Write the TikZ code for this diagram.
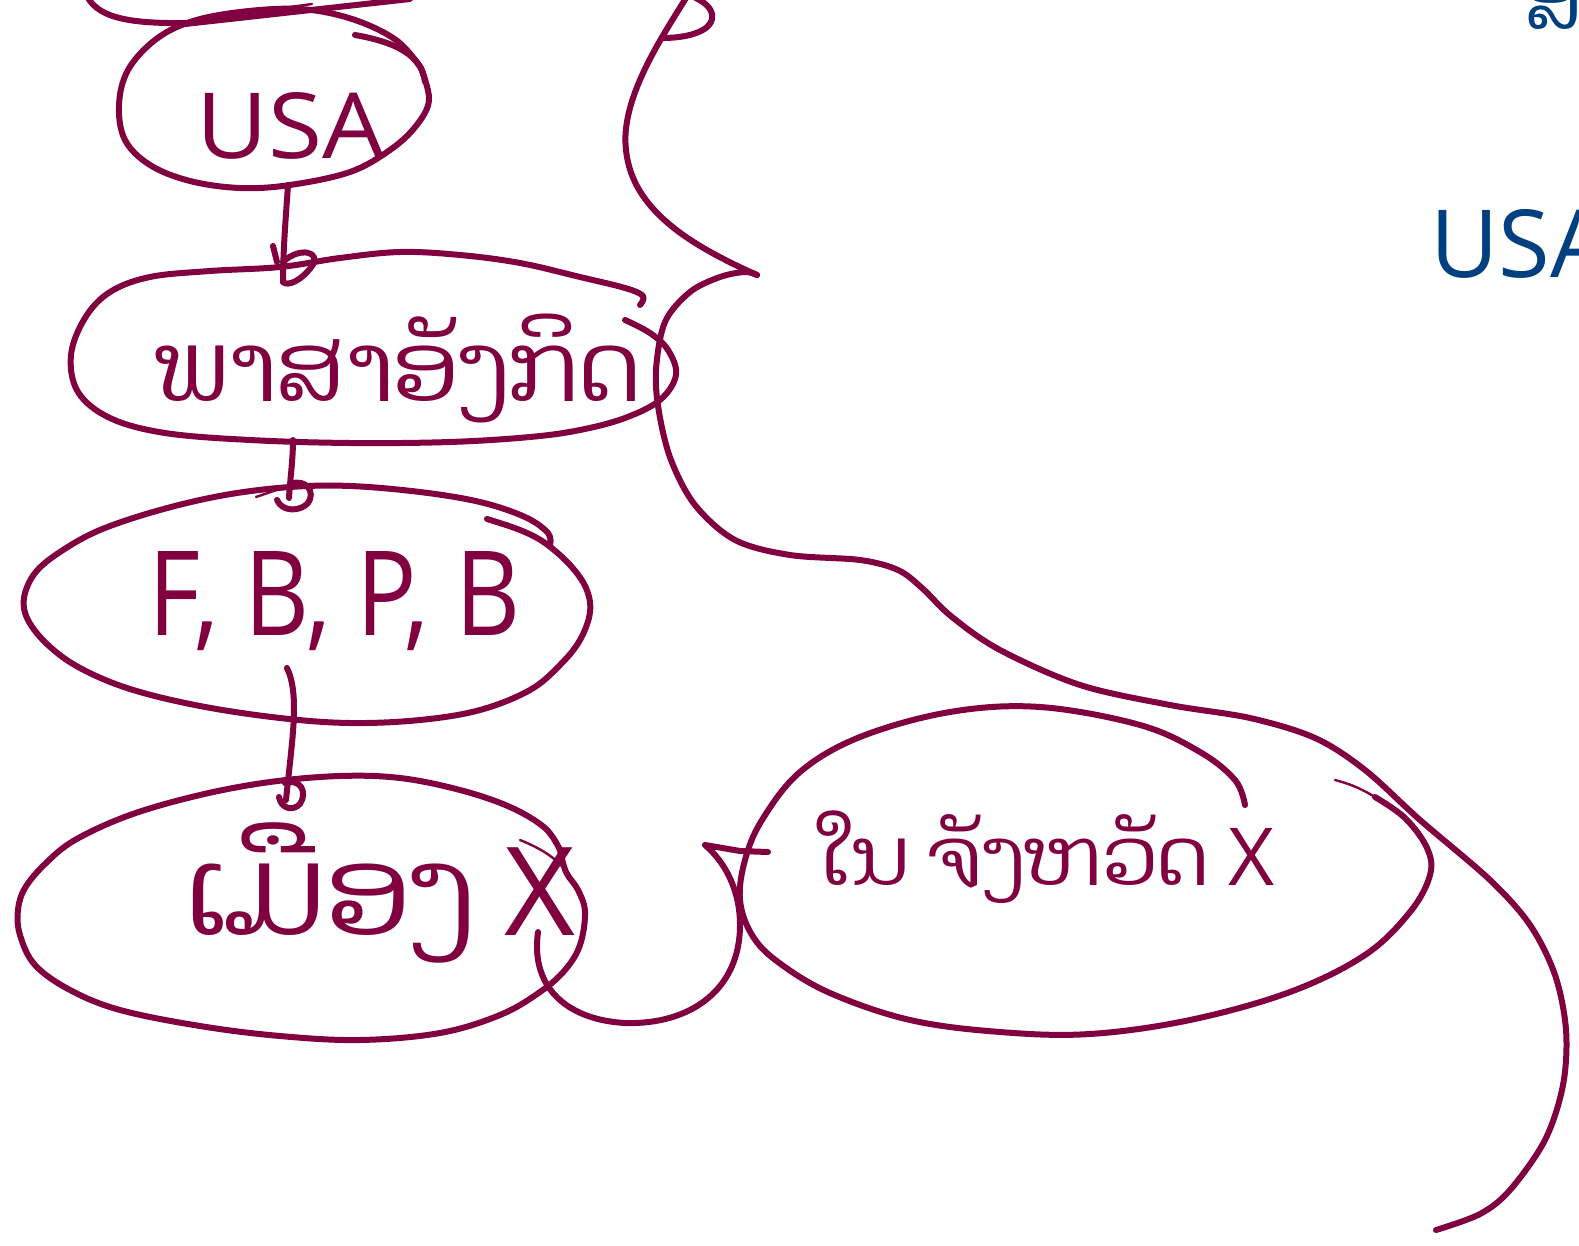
\documentclass[tikz,border=0pt]{standalone}
\usepackage{graphicx}
\usepackage{fontspec}
\setmainfont{Open Sans}
\newfontfamily\laofont[Script=Lao]{Dhyana}
\definecolor{inkred}{HTML}{800040}
\definecolor{inkblue}{HTML}{004080}
\begin{document}
\begin{tikzpicture}[x=0.5pt,y=-0.5pt,line cap=round,line join=round,
  ink/.style={draw=inkred,line width=3pt},
  hair/.style={draw=inkred,line width=1.2pt},
  inktext/.style={text=inkred,inner sep=0pt},
  bluetext/.style={text=inkblue,inner sep=0pt}]
\fill[white] (0,0) rectangle (1579,1246);
\useasboundingbox (0,0) rectangle (1579,1246);

% fragments at the top edge
\draw[ink] (88,-2) .. controls (100,18) and (130,24) .. (190,23);
\draw[ink] (185,24) -- (410,-1);
\draw[hair] (190,21) -- (312,4);

% node 1: USA
\draw[ink] plot[smooth,tension=0.6] coordinates {(421,68)(429,100)(416,126)(390,150)(350,172)(290,185)(240,188)(190,181)(150,165)(125,140)(119,105)(128,70)(155,40)(190,22)(240,12)(300,9)(352,19)(396,40)(421,68)};
\draw[ink] (355,35) .. controls (395,42) and (422,55) .. (425,82);
\node[inktext] (t1) at (291,126) {\resizebox{94pt}{33pt}{USA}};

% node 2
\draw[ink] plot[smooth,tension=0.6] coordinates {(640,305)(643,296)(625,288)(580,277)(520,263)(460,255)(400,252)(340,258)(280,267)(210,271)(150,277)(110,292)(85,318)(71,355)(78,392)(110,418)(165,433)(250,440)(350,443)(450,442)(530,437)(580,430)(625,418)(660,400)(676,375)(668,350)(650,333)(625,320)};
\node[inktext,anchor=west] (t2) at (155,368) {\resizebox{242pt}{!}{\laofont ພາສາອັງກິດ}};

% node 3
\draw[ink] plot[smooth,tension=0.6] coordinates {(487,519)(520,530)(545,543)(570,565)(586,588)(590,612)(580,640)(560,665)(530,690)(480,710)(420,720)(350,723)(280,718)(200,706)(130,689)(80,668)(48,645)(28,620)(24,598)(35,573)(60,552)(100,530)(160,510)(225,495)(290,487)(350,486)(420,492)(480,502)(525,517)(548,533)(550,545)};
\node[inktext,anchor=base west] (t3) at (148,635) {\resizebox{186pt}{42pt}{F, B, P, B}};

% node 4
\draw[ink] plot[smooth,tension=0.6] coordinates {(560,850)(566,872)(578,890)(585,912)(580,945)(565,970)(540,992)(500,1015)(440,1033)(360,1040)(280,1036)(200,1026)(120,1010)(70,990)(35,965)(20,935)(18,910)(25,888)(45,864)(75,840)(130,815)(200,795)(270,782)(340,776)(400,778)(460,790)(510,807)(545,828)(560,850)};
\draw[hair] (520,840) .. controls (545,850) and (562,862) .. (572,880);
\node[inktext,anchor=base west] (t4) at (185,935) {\resizebox{195pt}{!}{\laofont ເມືອງ\ \rmfamily X}};

% node 5
\draw[ink] plot[smooth,tension=0.6] coordinates {(1245,805)(1235,780)(1200,752)(1140,725)(1040,707)(950,712)(860,737)(800,772)(762,820)(745,860)(740,900)(752,935)(778,962)(830,993)(910,1020)(1000,1032)(1090,1034)(1190,1020)(1290,992)(1365,955)(1410,912)(1430,875)(1427,848)(1405,818)(1375,797)};
\draw[hair] (1375,797) .. controls (1360,788) and (1350,784) .. (1335,780);
\node[inktext,anchor=base west] (t5) at (818,885) {\resizebox{228pt}{!}{\laofont ໃນ ຈັງຫວັດ\ \rmfamily X}};

% connectors
\coordinate (u1) at (288,185); \coordinate (u2) at (283,282);
\draw[ink] (u1) .. controls (286,215) and (283,250) .. (u2);
\draw[ink] (283,262) .. controls (300,246) and (322,252) .. (312,266) .. controls (302,280) and (288,287) .. (u2);
\draw[ink] (273,246) -- (277,262);

\coordinate (v1) at (293,440); \coordinate (v2) at (289,498);
\draw[ink] (v1) .. controls (293,460) and (290,480) .. (v2);
\draw[ink] (290,484) .. controls (306,478) and (316,492) .. (308,503) .. controls (300,512) and (282,512) .. (277,500);
\draw[hair] (256,497) -- (288,486);

\coordinate (w1) at (287,668); \coordinate (w2) at (286,800);
\draw[ink] (w1) .. controls (300,695) and (292,740) .. (w2);
\draw[ink] (285,783) .. controls (300,778) and (308,792) .. (300,804) .. controls (292,812) and (281,808) .. (279,797);

\coordinate (x1) at (538,932); \coordinate (x2) at (705,845); \coordinate (x3) at (768,852);
\draw[ink] (x1) .. controls (530,990) and (570,1020) .. (625,1023) .. controls (690,1025) and (740,990) .. (740,925) .. controls (740,890) and (725,862) .. (x2) -- (740,851) -- (x3);

% big brace
\coordinate (bm) at (757,275);
\draw[ink] (686,-2) .. controls (660,40) and (620,100) .. (626,150) .. controls (632,210) and (690,245) .. (bm);
\draw[ink] (663,38) .. controls (690,38) and (715,30) .. (712,14) .. controls (710,5) and (700,0) .. (692,-4);
\draw[ink] plot[smooth,tension=0.55] coordinates {(bm)(745,272)(720,277)(690,292)(665,322)(656,370)(659,412)(671,460)(695,505)(735,540)(790,555)(860,560)(898,570)(922,588)(952,617)(1000,650)(1080,685)(1170,705)(1250,718)(1315,738)(1365,770)(1420,820)(1490,880)(1530,925)(1555,975)(1566,1030)(1563,1085)(1545,1140)(1510,1190)(1480,1214)(1436,1230)};

% blue fragments on the right edge
\node[bluetext,anchor=base west] (b1) at (1430,278) {\fontsize{47pt}{50pt}\selectfont USA};
\node[bluetext,anchor=base west] (b2) at (1524,30) {\fontsize{40pt}{44pt}\selectfont\laofont ສ};
\end{tikzpicture}
\end{document}
